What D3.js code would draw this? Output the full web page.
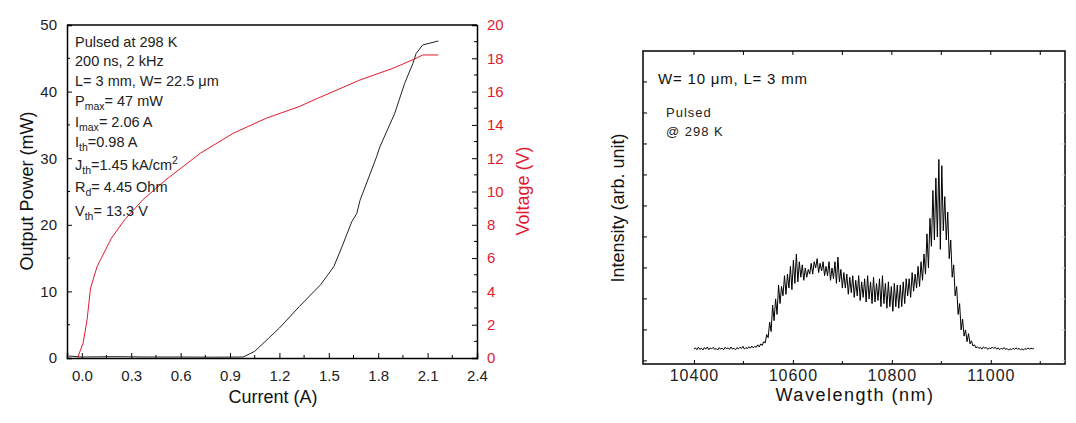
<!DOCTYPE html>
<html>
<head>
<meta charset="utf-8">
<script src="https://cdn.jsdelivr.net/npm/d3@7"></script>
<style>
  body { margin: 0; background: #fff; }
  svg { font-family: "Liberation Sans", Arial, sans-serif; }
</style>
</head>
<body>
<svg id="chart" width="1076" height="423"></svg>
<script>
// ---- left panel: L-I-V ----
var currentP = [-0.08, 0.0, 0.2, 0.4, 0.6, 0.8, 0.98, 1.05, 1.2, 1.32, 1.45, 1.53, 1.58, 1.64, 1.67, 1.69, 1.79, 1.81, 1.9, 1.96, 2.01, 2.03, 2.07, 2.165];
var powerVals = [0.3, 0.15, 0.2, 0.15, 0.15, 0.12, 0.15, 1.0, 4.5, 7.7, 11.0, 13.7, 16.7, 20.5, 21.7, 23.7, 30.2, 31.7, 36.7, 41.2, 44.2, 45.7, 47.0, 47.6];
var currentV = [-0.026, 0.008, 0.032, 0.053, 0.093, 0.18, 0.26, 0.37, 0.51, 0.72, 0.92, 1.12, 1.32, 1.41, 1.69, 1.89, 2.03, 2.07, 2.165];
var voltageVals = [0, 0.9, 2.3, 4.2, 5.5, 7.2, 8.3, 9.5, 10.7, 12.3, 13.5, 14.4, 15.1, 15.5, 16.7, 17.4, 18.0, 18.2, 18.2];
var currentTicks = [0.0, 0.3, 0.6, 0.9, 1.2, 1.5, 1.8, 2.1, 2.4];
var powerTicks = [0, 10, 20, 30, 40, 50];
var voltTicks = [0, 2, 4, 6, 8, 10, 12, 14, 16, 18, 20];
var notes = [
  [["Pulsed at 298 K", "n"]],
  [["200 ns, 2 kHz", "n"]],
  [["L= 3 mm, W= 22.5 \u03bcm", "n"]],
  [["P", "n"], ["max", "sub"], ["= 47 mW", "n"]],
  [["I", "n"], ["max", "sub"], ["= 2.06 A", "n"]],
  [["I", "n"], ["th", "sub"], ["=0.98 A", "n"]],
  [["J", "n"], ["th", "sub"], ["=1.45 kA/cm", "n"], ["2", "sup"]],
  [["R", "n"], ["d", "sub"], ["= 4.45 Ohm", "n"]],
  [["V", "n"], ["th", "sub"], ["= 13.3 V", "n"]]
];
var noteY = [47, 66, 86, 106, 127, 147, 170, 192, 216];

// ---- right panel: spectrum, 3 nm steps from 10400 nm ----
var wlStart = 10400, wlStep = 3;
var intensity = [
  0.38,0.42,0.36,0.44,0.37,0.41,0.35,0.43,0.38,0.45,0.36,0.42,0.39,0.44,0.37,0.40,
  0.35,0.43,0.38,0.41,0.36,0.44,0.39,0.42,0.37,0.45,0.38,0.41,0.36,0.43,0.39,0.44,
  0.40,0.47,0.38,0.43,0.40,0.46,0.41,0.48,0.42,0.47,0.44,0.52,0.45,0.55,0.50,0.62,
  0.58,0.85,0.75,1.25,0.95,1.8,1.3,2.0,1.5,2.45,1.85,2.4,2.1,2.75,2.15,2.8,2.35,3.05,
  2.3,3.25,2.5,3.45,2.55,3.2,2.7,3.1,2.6,3.0,2.7,2.95,2.8,3.15,2.8,3.2,3.0,3.3,
  2.85,3.15,2.9,3.2,2.75,3.05,2.75,3.2,2.6,3.0,2.65,3.2,2.5,3.35,2.55,2.95,2.35,2.85,
  2.35,2.8,2.15,2.7,2.2,2.75,2.05,2.6,2.1,2.75,1.95,2.55,2.05,2.65,1.9,2.75,2.0,2.55,
  1.85,2.7,1.9,2.5,1.95,2.65,1.75,2.75,1.85,2.5,1.7,2.55,1.75,2.4,1.6,2.5,1.75,2.45,
  1.7,2.45,1.75,2.55,1.85,2.65,2.1,2.65,2.05,2.85,2.25,2.8,2.35,3.05,2.4,3.2,2.6,3.45,
  2.8,4.1,3.0,4.6,3.7,5.5,3.9,5.9,4.0,6.5,3.6,6.3,4.2,5.3,3.9,4.8,3.3,3.9,2.7,
  3.1,2.1,2.4,1.5,1.85,1.0,1.35,0.8,1.0,0.62,0.88,0.55,0.65,0.48,0.52,0.42,
  0.46,0.40,0.44,0.38,0.45,0.41,0.43,0.37,0.42,0.39,0.45,0.40,0.44,0.38,0.42,0.36,
  0.41,0.38,0.43,0.37,0.40,0.35,0.39,0.36,0.41,0.37,0.42,0.38,0.40,0.36,0.39,0.35,
  0.40,0.37,0.42,0.38,0.41,0.39,0.40
];
var wlTicks = [10400, 10600, 10800, 11000];

var red = '#e3192f';
var svg = d3.select('#chart');

// ================= left panel =================
var L = {left: 67, right: 477, top: 25, bottom: 358};
var x1 = d3.scaleLinear().domain([-0.09, 2.4]).range([L.left, L.right]);
var yP = d3.scaleLinear().domain([0, 50]).range([L.bottom, L.top]);
var yV = d3.scaleLinear().domain([0, 20]).range([L.bottom, L.top]);

var left = svg.append('g');

// frame top line
left.append('line').attr('x1', L.left).attr('x2', L.right).attr('y1', L.top).attr('y2', L.top)
    .attr('stroke', '#000').attr('stroke-width', 1.5);

function minorTicks(g, scale, vals, len, orient, pos, color) {
  g.selectAll(null).data(vals).enter().append('line')
    .attr('x1', function(d){ return orient == 'h' ? scale(d) : pos; })
    .attr('x2', function(d){ return orient == 'h' ? scale(d) : pos + len; })
    .attr('y1', function(d){ return orient == 'h' ? pos : scale(d); })
    .attr('y2', function(d){ return orient == 'h' ? pos + len : scale(d); })
    .attr('stroke', color || '#000').attr('stroke-width', 1);
}

// bottom axis
var xAxis = left.append('g').attr('transform', 'translate(0,' + L.bottom + ')')
  .call(d3.axisBottom(x1).tickValues(currentTicks).tickSize(-5).tickPadding(12).tickFormat(d3.format('.1f')));
minorTicks(left, x1, d3.range(0.15, 2.4, 0.3), -3, 'h', L.bottom);

// left axis
var yAxisL = left.append('g').attr('transform', 'translate(' + L.left + ',0)')
  .call(d3.axisLeft(yP).tickValues(powerTicks).tickSize(-5).tickPadding(10));
minorTicks(left, yP, [5, 15, 25, 35, 45], 3, 'v', L.left);

// right axis
var yAxisR = left.append('g').attr('transform', 'translate(' + L.right + ',0)')
  .call(d3.axisRight(yV).tickValues(voltTicks).tickSize(-5).tickPadding(10));
minorTicks(left, yV, d3.range(1, 20, 2), -3, 'v', L.right, '#000');

[xAxis, yAxisL, yAxisR].forEach(function(a){
  a.select('.domain').attr('stroke', '#000').attr('stroke-width', 1.5);
  a.selectAll('.tick line').attr('stroke', '#000');
  a.selectAll('.tick text').attr('font-size', 15).attr('fill', '#222')
    .attr('font-family', '"Liberation Sans", Arial, sans-serif');
});
yAxisR.selectAll('.tick text').attr('fill', red);

// lines
left.append('path')
  .datum(d3.zip(currentP, powerVals))
  .attr('fill', 'none').attr('stroke', '#222').attr('stroke-width', 1)
  .attr('d', d3.line().x(function(d){ return x1(d[0]); }).y(function(d){ return yP(d[1]); }));
left.append('path')
  .datum(d3.zip(currentV, voltageVals))
  .attr('fill', 'none').attr('stroke', red).attr('stroke-width', 1)
  .attr('d', d3.line().x(function(d){ return x1(d[0]); }).y(function(d){ return yV(d[1]); }));

// titles
left.append('text').attr('x', 273).attr('y', 403).attr('text-anchor', 'middle')
  .attr('font-size', 18).attr('fill', '#111').text('Current (A)');
left.append('text').attr('transform', 'translate(33,' + 191 + ') rotate(-90)').attr('text-anchor', 'middle')
  .attr('font-size', 18).attr('fill', '#111').text('Output Power (mW)');
left.append('text').attr('transform', 'translate(529,' + 191 + ') rotate(-90)').attr('text-anchor', 'middle')
  .attr('font-size', 18).attr('fill', red).text('Voltage (V)');

// annotation lines with sub/superscripts
notes.forEach(function(parts, i){
  var t = left.append('text').attr('x', 75).attr('y', noteY[i]).attr('font-size', 14.5).attr('fill', '#222');
  var off = 0;
  parts.forEach(function(p){
    var d = p[1] == 'sub' ? 4 : (p[1] == 'sup' ? -6 : 0);
    var s = t.append('tspan').text(p[0]).attr('dy', d - off);
    if (p[1] != 'n') s.attr('font-size', 10.5);
    off = d;
  });
});

// ================= right panel =================
var R = {left: 643, right: 1065, top: 51, bottom: 364};
var x2 = d3.scaleLinear().domain([10297, 11150]).range([R.left, R.right]);
var y2 = d3.scaleLinear().domain([-0.1, 10]).range([R.bottom, R.top]);
var right = svg.append('g');

right.append('rect').attr('x', R.left).attr('y', R.top).attr('width', R.right - R.left).attr('height', R.bottom - R.top)
  .attr('fill', 'none').attr('stroke', '#000').attr('stroke-width', 1.5);

var xAxis2 = right.append('g').attr('transform', 'translate(0,' + R.bottom + ')')
  .call(d3.axisBottom(x2).tickValues(wlTicks).tickSize(-4).tickPadding(6).tickFormat(d3.format('d')));
xAxis2.select('.domain').remove();
xAxis2.selectAll('.tick text').attr('font-size', 16).attr('fill', '#222').attr('letter-spacing', 1)
  .attr('font-family', '"Liberation Sans", Arial, sans-serif');
minorTicks(right, x2, [10500, 10700, 10900, 11100], -3, 'h', R.bottom);
minorTicks(right, x2, d3.range(10400, 11101, 100), 4, 'h', R.top);
minorTicks(right, y2, d3.range(0, 10), 4, 'v', R.left);
minorTicks(right, y2, d3.range(0, 10), -4, 'v', R.right, '#ddd');

right.append('path')
  .datum(intensity)
  .attr('fill', 'none').attr('stroke', '#000').attr('stroke-width', 1)
  .attr('d', d3.line().x(function(d, i){ return x2(wlStart + i * wlStep); }).y(function(d){ return y2(d); }));

right.append('text').attr('x', 855).attr('y', 401).attr('text-anchor', 'middle').attr('letter-spacing', 1.5)
  .attr('font-size', 18).attr('fill', '#111').text('Wavelength (nm)');
right.append('text').attr('transform', 'translate(624,208) rotate(-90)').attr('text-anchor', 'middle')
  .attr('font-size', 18).attr('fill', '#111').text('Intensity (arb. unit)');
right.append('text').attr('x', 658).attr('y', 84).attr('font-size', 15).attr('letter-spacing', 0.8)
  .attr('fill', '#111').text('W= 10 \u03bcm, L= 3 mm');
right.append('text').attr('x', 666).attr('y', 117).attr('font-size', 13).attr('letter-spacing', 1)
  .attr('fill', '#222').text('Pulsed');
right.append('text').attr('x', 666).attr('y', 136).attr('font-size', 13).attr('letter-spacing', 1)
  .attr('fill', '#222').text('@ 298 K');
</script>
</body>
</html>
